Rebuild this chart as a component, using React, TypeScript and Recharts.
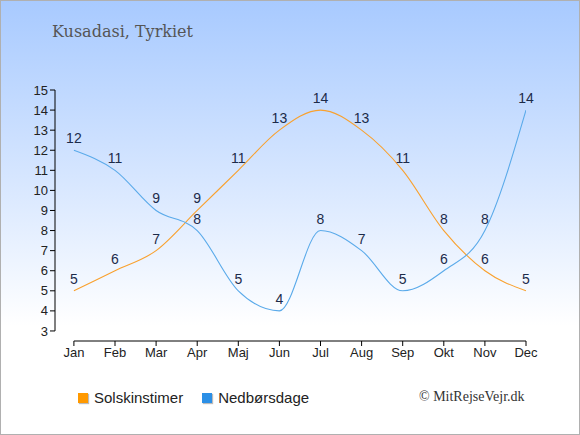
import React from "react";
import {
  LineChart,
  Line,
  XAxis,
  YAxis,
  LabelList,
  ReferenceLine,
} from "recharts";

const months = ["Jan", "Feb", "Mar", "Apr", "Maj", "Jun", "Jul", "Aug", "Sep", "Okt", "Nov", "Dec"];
const sunHours = [5, 6, 7, 9, 11, 13, 14, 13, 11, 8, 6, 5];
const rainDays = [12, 11, 9, 8, 5, 4, 8, 7, 5, 6, 8, 14];
const yTicks = [3, 4, 5, 6, 7, 8, 9, 10, 11, 12, 13, 14, 15];

const data = months.map((m, i) => ({
  idx: i,
  name: m,
  sol: sunHours[i],
  regn: rainDays[i],
}));

const SUN = "#f9a12e";
const RAIN = "#5aaaea";
const tickStyle = { fill: "#222", fontSize: 13, fontFamily: "Liberation Sans, Arial, sans-serif" };
const labelStyle = { fill: "#1c2b4a", fontSize: 14, fontFamily: "Liberation Sans, Arial, sans-serif" };

const App: React.FC = () => {
  return (
    <div
      style={{
        position: "absolute",
        left: 0,
        top: 0,
        width: 580,
        height: 435,
        boxSizing: "border-box",
        border: "1px solid #b0b0b0",
        background: "linear-gradient(to bottom, #a8caff 0%, #dbe9ff 45%, #ffffff 75%, #ffffff 100%)",
        overflow: "hidden",
      }}
    >
      <div
        style={{
          position: "absolute",
          left: 51,
          top: 21,
          fontFamily: "DejaVu Serif, serif",
          fontSize: 16,
          color: "#555",
        }}
      >
        Kusadasi, Tyrkiet
      </div>
      <div style={{ position: "absolute", left: -1, top: -1 }}>
        <LineChart width={580} height={435} data={data} margin={{ top: 90, right: 54, bottom: 64, left: 0 }}>
          <XAxis
            dataKey="idx"
            type="number"
            domain={[-0.46, 11]}
            ticks={[0, 1, 2, 3, 4, 5, 6, 7, 8, 9, 10, 11]}
            tickFormatter={(v) => months[v]}
            axisLine={false}
            tickLine={{ stroke: "#000" }}
            tickSize={5}
            tick={tickStyle}
            allowDataOverflow
          />
          <YAxis
            type="number"
            domain={[2.5, 15]}
            ticks={yTicks}
            width={55}
            axisLine={false}
            tickLine={{ stroke: "#000" }}
            tickSize={5}
            tick={tickStyle}
            interval={0}
            allowDataOverflow
          />
          <ReferenceLine
            segment={[{ x: -0.46, y: 3 }, { x: -0.46, y: 15 }]}
            stroke="#000"
            ifOverflow="visible"
          />
          <ReferenceLine
            segment={[{ x: 0, y: 2.5 }, { x: 11, y: 2.5 }]}
            stroke="#000"
            ifOverflow="visible"
          />
          <Line
            type="monotone"
            dataKey="sol"
            stroke={SUN}
            strokeWidth={1.1}
            dot={false}
            activeDot={false}
            isAnimationActive={false}
          >
            <LabelList dataKey="sol" position="top" offset={7} style={labelStyle} />
          </Line>
          <Line
            type="monotone"
            dataKey="regn"
            stroke={RAIN}
            strokeWidth={1.1}
            dot={false}
            activeDot={false}
            isAnimationActive={false}
          >
            <LabelList dataKey="regn" position="top" offset={7} style={labelStyle} />
          </Line>
        </LineChart>
      </div>
      <div
        style={{
          position: "absolute",
          left: 77,
          top: 388,
          fontFamily: "Liberation Sans, Arial, sans-serif",
          fontSize: 15,
          color: "#222",
          display: "flex",
          alignItems: "center",
        }}
      >
        <span style={{ width: 10, height: 10, background: "#ff9900", display: "inline-block", marginRight: 6, boxShadow: "1px 1px 1px #bbb" }} />
        <span style={{ marginRight: 19 }}>Solskinstimer</span>
        <span style={{ width: 10, height: 10, background: "#2b8fe6", display: "inline-block", marginRight: 6, boxShadow: "1px 1px 1px #bbb" }} />
        <span>Nedbørsdage</span>
      </div>
      <div
        style={{
          position: "absolute",
          left: 418,
          top: 388,
          fontFamily: "Liberation Serif, Times New Roman, serif",
          fontSize: 14,
          color: "#333",
        }}
      >
        © MitRejseVejr.dk
      </div>
    </div>
  );
};

export default App;
